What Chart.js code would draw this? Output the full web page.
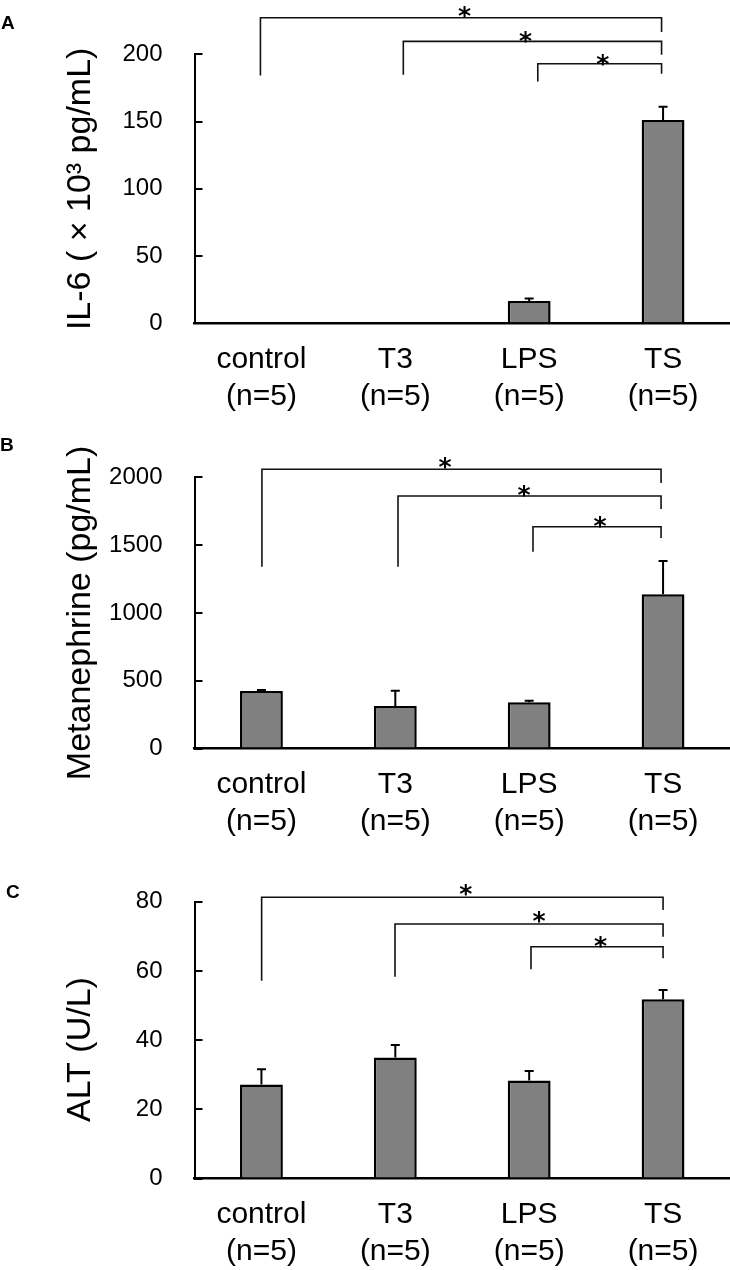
<!DOCTYPE html>
<html>
<head>
<meta charset="utf-8">
<script src="https://cdn.jsdelivr.net/npm/chart.js@4"></script>
<style>
  body { margin: 0; background: #fff; }
  #wrap { position: relative; width: 730px; height: 1270px; overflow: hidden; }
  .panel { position: absolute; left: 0; width: 730px; }
  .tag { position: absolute; font: bold 19px "Liberation Sans", Arial, sans-serif; color: #000; }
</style>
</head>
<body>
<div id="wrap">
  <div class="panel" style="top:0px"><canvas id="chartA" width="730" height="420"></canvas></div>
  <div class="panel" style="top:420px"><canvas id="chartB" width="730" height="425"></canvas></div>
  <div class="panel" style="top:845px"><canvas id="chartC" width="730" height="425"></canvas></div>
  <div class="tag" style="left:1px;top:12px">A</div>
  <div class="tag" style="left:0px;top:434px">B</div>
  <div class="tag" style="left:6px;top:881px">C</div>
</div>
<script>
// groups on the x axis
const groups = ['control', 'T3', 'LPS', 'TS'];
const groupN = ['(n=5)', '(n=5)', '(n=5)', '(n=5)'];

// A: IL-6 (x10^3 pg/mL), mean and SD
const il6Mean = [0, 0, 16.5, 151.3];
const il6Sd = [0, 0, 2.0, 9.8];
const il6Ticks = [0, 50, 100, 150, 200];

// B: Metanephrine (pg/mL)
const metMean = [424, 313, 341, 1137];
const metSd = [7, 113, 11, 246];
const metTicks = [0, 500, 1000, 1500, 2000];

// C: ALT (U/L)
const altMean = [27.2, 35.0, 28.3, 51.8];
const altSd = [4.4, 3.6, 2.8, 2.7];
const altTicks = [0, 20, 40, 60, 80];

// significance: every group vs TS
const sigPairs = [[0, 3], [1, 3], [2, 3]];
const sigMarks = ['*', '*', '*'];

Chart.defaults.color = '#000';
Chart.defaults.font.family = '"Liberation Sans", Arial, sans-serif';

const errorBars = {
  id: 'errorBars',
  afterDatasetsDraw(chart, args, opts) {
    const { ctx, scales: { y } } = chart;
    const meta = chart.getDatasetMeta(0);
    const means = chart.data.datasets[0].data;
    ctx.save();
    ctx.strokeStyle = '#000';
    ctx.lineWidth = 2;
    meta.data.forEach((bar, i) => {
      if (!opts.sd[i]) return;
      const top = y.getPixelForValue(means[i] + opts.sd[i]);
      ctx.beginPath();
      ctx.moveTo(bar.x, bar.y);
      ctx.lineTo(bar.x, top);
      ctx.moveTo(bar.x - 4.5, top);
      ctx.lineTo(bar.x + 4.5, top);
      ctx.stroke();
    });
    ctx.restore();
  }
};

// brackets above the bars, drawn from the x scale positions
const sigBrackets = {
  id: 'sigBrackets',
  afterDraw(chart, args, opts) {
    const { ctx, chartArea, scales: { x } } = chart;
    const t = chartArea.top;
    ctx.save();
    ctx.strokeStyle = '#111';
    ctx.lineWidth = 1.6;
    ctx.fillStyle = '#000';
    ctx.font = 'bold 25px "DejaVu Sans"';
    ctx.textAlign = 'center';
    ctx.textBaseline = 'alphabetic';
    sigPairs.forEach(([a, b], k) => {
      const g = opts.layout[k];
      const x1 = x.getPixelForValue(a) + g.dx1;
      const x2 = x.getPixelForValue(b) + g.dx2;
      ctx.beginPath();
      ctx.moveTo(x1, t + g.leftEnd);
      ctx.lineTo(x1, t + g.y);
      ctx.lineTo(x2, t + g.y);
      ctx.lineTo(x2, t + g.rightEnd);
      ctx.stroke();
      ctx.fillText(sigMarks[k], (x1 + x2) / 2 + g.sx, t + g.sy + 15);
    });
    ctx.restore();
  }
};

function makePanel(id, title, means, sds, ticks, box, layout) {
  new Chart(document.getElementById(id), {
    type: 'bar',
    data: {
      labels: groups.map((g, i) => [g, groupN[i]]),
      datasets: [{
        data: means,
        backgroundColor: '#808080',
        borderColor: '#000',
        borderWidth: 2.5,
        barPercentage: 0.32,
        categoryPercentage: 1
      }]
    },
    options: {
      responsive: false,
      animation: false,
      devicePixelRatio: 1,
      layout: { padding: { top: box.top, right: 0, bottom: 0, left: 0 } },
      plugins: {
        legend: { display: false },
        tooltip: { enabled: false },
        errorBars: { sd: sds },
        sigBrackets: { layout: layout }
      },
      scales: {
        x: {
          grid: { display: false, drawTicks: false },
          border: { display: true, color: '#000', width: 2.5 },
          ticks: { padding: 18, font: { size: 30, lineHeight: 1.233 }, color: '#000' },
          afterFit(scale) { scale.height = box.xh; }
        },
        y: {
          min: ticks[0],
          max: ticks[ticks.length - 1],
          afterBuildTicks(scale) { scale.ticks = ticks.map(v => ({ value: v })); },
          grid: { display: true, drawOnChartArea: false, drawTicks: true, tickLength: -8, color: '#000', lineWidth: 2 },
          border: { display: true, color: '#000', width: 2 },
          ticks: { padding: 40, font: { size: 24 }, color: '#000', callback: v => String(v) },
          title: { display: true, text: title, font: { size: 34 }, color: '#000', padding: { top: 60, bottom: 0 } },
          afterFit(scale) { scale.width = 194.5; }
        }
      }
    },
    plugins: [errorBars, sigBrackets]
  });
}

makePanel('chartA', 'IL-6 ( \u00d7 10\u00b3 pg/mL)', il6Mean, il6Sd, il6Ticks,
  { top: 52.3, xh: 96.7 },
  [
    { dx1: -1, dx2: -1.5, y: -36.6, leftEnd: 21, rightEnd: -22.3, sx: 3.5, sy: -45.6 },
    { dx1: 8, dx2: -1.5, y: -13, leftEnd: 20.4, rightEnd: 0.4, sx: -6.8, sy: -20.6 },
    { dx1: 8.6, dx2: -1.5, y: 9.4, leftEnd: 27, rightEnd: 19.4, sx: 3, sy: 2.7 }
  ]);

makePanel('chartB', 'Metanephrine (pg/mL)', metMean, metSd, metTicks,
  { top: 57.3, xh: 96.5 },
  [
    { dx1: 0.5, dx2: -2, y: -8, leftEnd: 89.4, rightEnd: 5.7, sx: -16.5, sy: -17.3 },
    { dx1: 2.7, dx2: -2, y: 18.7, leftEnd: 89.4, rightEnd: 31.7, sx: -5.5, sy: 10.7 },
    { dx1: 3.8, dx2: -2, y: 49.4, leftEnd: 74.4, rightEnd: 60.7, sx: 3, sy: 41.7 }
  ]);

// trailing spaces nudge the short title down to where the original sits
makePanel('chartC', 'ALT (U/L)  ', altMean, altSd, altTicks,
  { top: 56.7, xh: 91.5 },
  [
    { dx1: 0.2, dx2: 0, y: -4.4, leftEnd: 79, rightEnd: 8.3, sx: 3.5, sy: -15 },
    { dx1: -0.3, dx2: 0, y: 22.3, leftEnd: 75, rightEnd: 35, sx: 10, sy: 12.3 },
    { dx1: 1.8, dx2: 0, y: 45, leftEnd: 67.6, rightEnd: 56.6, sx: 3.5, sy: 37.3 }
  ]);
</script>
</body>
</html>
